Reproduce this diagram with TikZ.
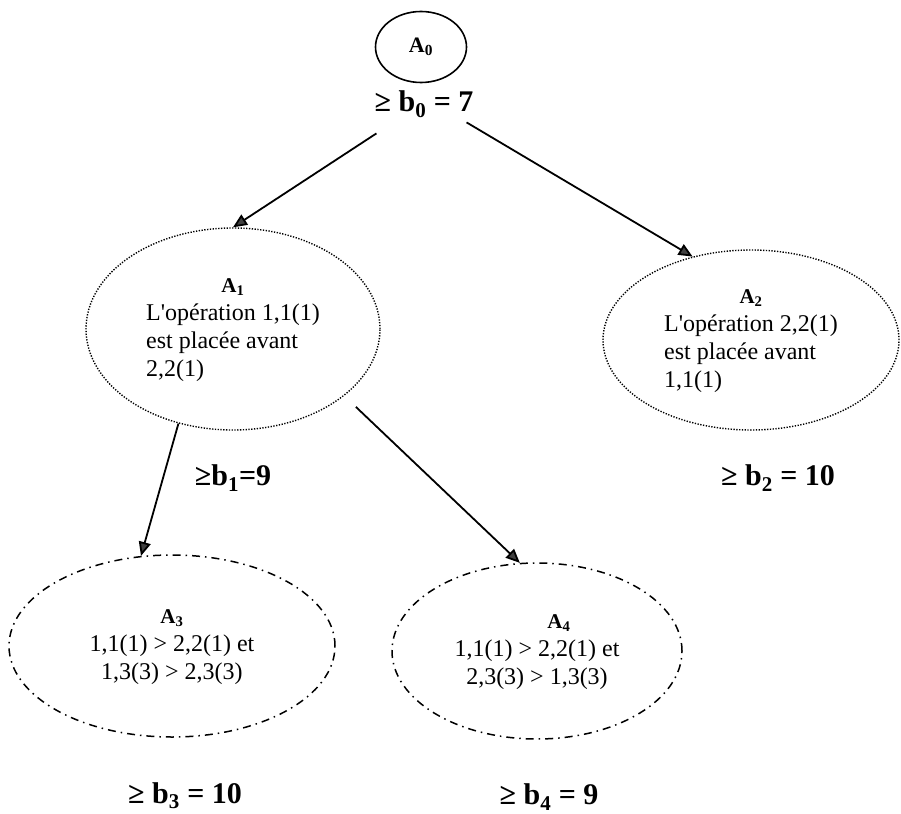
\documentclass[tikz,border=0pt]{standalone}
\usepackage{fontspec}
\setmainfont{Liberation Serif}
\usetikzlibrary{shapes.geometric,arrows.meta}
\newcommand{\etiq}[1]{{\fontsize{21}{28}\selectfont\bfseries A\textsubscript{#1}}}
\begin{document}
\begin{tikzpicture}[x=1pt,y=-1pt,
	every node/.style = {inner sep=0pt, align=center},
	etat/.style = {shape=ellipse, draw, font=\fontsize{24}{28}\selectfont},
	borne/.style = {font=\fontsize{30}{36}\selectfont\bfseries},
	pointille/.style = {line width=1.4pt, dash pattern=on 1.3pt off 1.5pt},
	mixte/.style = {line width=1.5pt, dash pattern=on 8pt off 5pt on 1.5pt off 5pt},
	fleche/.style = {line width=1.8pt,
		-{Triangle[length=14pt,width=12pt,fill=black!75]}}]
	\useasboundingbox (0,0) rectangle (901,813);
	% racine
	\node[etat, line width=1.6pt, minimum width=91pt, minimum height=71pt] (A0) at (421,47)
		{{\fontsize{22}{28}\selectfont\bfseries A\textsubscript{0}}};
	\node[borne] (lb0) at (424,104) {≥ b\textsubscript{0} = 7};
	% premier niveau
	\node[etat, pointille, minimum width=294pt, minimum height=202pt] (A1) at (233,329)
		{\begin{tabular}{@{}l@{}}
			\multicolumn{1}{c}{\etiq{1}}\\
			L\textquotesingle opération 1,1(1)\\
			est placée avant\\
			2,2(1)
		\end{tabular}};
	\node[etat, pointille, minimum width=296pt, minimum height=180pt] (A2) at (751,340)
		{\begin{tabular}{@{}l@{}}
			\multicolumn{1}{c}{\etiq{2}}\\
			L\textquotesingle opération 2,2(1)\\
			est placée avant\\
			1,1(1)
		\end{tabular}};
	\node[borne] (lb1) at (233,478) {≥b\textsubscript{1}=9};
	\node[borne] (lb2) at (778,478) {≥ b\textsubscript{2} = 10};
	% second niveau
	\node[etat, mixte, minimum width=326pt, minimum height=182pt] (A3) at (172,646)
		{\begin{tabular}{@{}c@{}}
			\etiq{3}\\
			1,1(1) > 2,2(1) et\\
			1,3(3) > 2,3(3)
		\end{tabular}};
	\node[etat, mixte, minimum width=290pt, minimum height=176pt] (A4) at (537,651)
		{\begin{tabular}{@{}c@{}}
			\hspace*{44pt}\etiq{4}\\
			1,1(1) > 2,2(1) et\\
			2,3(3) > 1,3(3)
		\end{tabular}};
	\node[borne] (lb3) at (185,796) {≥ b\textsubscript{3} = 10};
	\node[borne] (lb4) at (549,797) {≥ b\textsubscript{4} = 9};
	% arcs
	\draw[fleche] ([xshift=2pt,yshift=-16pt]lb0.south west) -- (A1.north);
	\draw[fleche] ([xshift=-7pt,yshift=-5pt]lb0.south east) -- (A2.125);
	\draw[fleche] (A1.240) -- (A3.109);
	\draw[fleche, shorten <=16pt] (A1.-31) -- (A4.101);
\end{tikzpicture}
\end{document}
